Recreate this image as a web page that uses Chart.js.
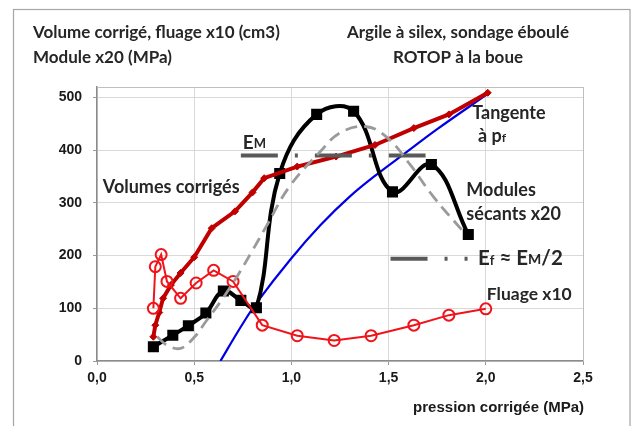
<!DOCTYPE html>
<html><head><meta charset="utf-8">
<script src="https://cdn.jsdelivr.net/npm/chart.js@4"></script>
<style>html,body{margin:0;padding:0;background:#fff}#c{display:block}</style>
</head><body>
<canvas id="c" width="633" height="426"></canvas>
<script>
// Volumes corrigés
const volX = [0.29,0.30,0.32,0.34,0.38,0.43,0.50,0.59,0.71,0.80,0.86,1.03,1.23,1.43,1.63,1.81,2.01];
const volY = [46,68,92,119,144,167,197,252,284,320,347,369,388,410,442,468,509];
// Fluage x10
const fluX = [0.29,0.30,0.33,0.36,0.43,0.51,0.60,0.70,0.85,1.03,1.22,1.41,1.63,1.81,2.00];
const fluY = [100,179,202,151,119,148,172,151,68,48,39,48,68,87,99];
// Modules sécants x20
const modX = [0.29,0.39,0.47,0.56,0.65,0.74,0.82,0.94,1.13,1.32,1.52,1.72,1.91];
const modY = [27,49,67,91,133,115,101,356,468,474,321,373,240];
// Courbe lissée (tiretés gris)
const smX = [0.31,0.36,0.43,0.50,0.56,0.64,0.72,0.80,0.87,0.99,1.15,1.25,1.38,1.49,1.61,1.73,1.89];
const smY = [46,30,24,45,75,115,160,210,255,331,398,433,445,425,373,312,243];
// Tangente à pf
const tanX = [0.635,0.74,0.82,1.0,1.15,1.30,1.46,1.58,1.75,2.01];
const tanY = [0,65,110,195,258,312,360,393,440,507];
// EM and Ef lines
const emX = [0.74,1.69];
const emY = [390,390];
const efX = [1.51,1.91];
const efY = [194,194];
// Axis ticks
const xTicks = [0,0.5,1.0,1.5,2.0,2.5];
const yTicks = [0,100,200,300,400,500];

const pts = (xs, ys) => xs.map((x, i) => ({x, y: ys[i]}));

const TXT = '#262626';
const LF = 'Lato, "Noto Sans", sans-serif';
const AF = '"Liberation Sans", Arial, sans-serif';

function runs(ctx, x, y, parts) {
  let cx = x;
  for (const p of parts) {
    ctx.font = 'bold ' + p[1] + 'px ' + LF;
    ctx.fillText(p[0], cx, y + (p[2] || 0));
    cx += ctx.measureText(p[0]).width;
  }
}

const deco = {
  id: 'deco',
  beforeDraw(chart) {
    const ctx = chart.ctx;
    ctx.save();
    ctx.fillStyle = '#fff';
    ctx.fillRect(0, 0, chart.width, chart.height);
    ctx.strokeStyle = '#a6a6a6';
    ctx.lineWidth = 1.2;
    ctx.strokeRect(13.5, 9.5, 616.5, 430);
    ctx.restore();
  },
  beforeDatasetsDraw(chart) {
    const ctx = chart.ctx, a = chart.chartArea;
    ctx.save();
    ctx.strokeStyle = '#bfbfbf';
    ctx.lineWidth = 1;
    ctx.beginPath();
    ctx.moveTo(a.left, a.top + 0.5); ctx.lineTo(a.right + 0.5, a.top + 0.5); ctx.lineTo(a.right + 0.5, a.bottom);
    ctx.stroke();
    ctx.restore();
  },
  afterDraw(chart) {
    const ctx = chart.ctx;
    const xs = chart.scales.x, ys = chart.scales.y;
    const px = v => xs.getPixelForValue(v), py = v => ys.getPixelForValue(v);
    ctx.save();
    ctx.fillStyle = TXT;
    ctx.textBaseline = 'middle';
    ctx.textAlign = 'left';
    ctx.font = 'bold 17px ' + LF;
    ctx.fillText('Volume corrigé, fluage x10 (cm3)', 33, 33);
    ctx.fillText('Module x20 (MPa)', 33, 58);
    ctx.textAlign = 'center';
    ctx.fillText('Argile à silex, sondage éboulé', 458, 33);
    ctx.fillText('ROTOP à la boue', 458, 58);
    ctx.textAlign = 'right';
    ctx.font = 'bold 15px ' + AF;
    ctx.fillStyle = '#1a1a1a';
    ctx.fillText('pression corrigée (MPa)', 584, 408);
    ctx.textAlign = 'left';
    ctx.fillStyle = TXT;
    ctx.font = 'bold 18px ' + LF;
    ctx.fillText('Volumes corrigés', px(0.03), py(329));
    runs(ctx, px(0.75), py(414), [['E', 19], ['M', 13, 1]]);
    ctx.font = 'bold 18px ' + LF;
    ctx.fillText('Tangente', px(1.93), py(471));
    runs(ctx, px(1.96), py(426), [['à p', 18], ['f', 12, 2]]);
    ctx.font = 'bold 18px ' + LF;
    ctx.fillText('Modules', px(1.90), py(325));
    ctx.fillText('sécants x20', px(1.90), py(278));
    runs(ctx, px(1.96), py(194), [['E', 20.5], ['f', 13, 2], [' ≈ E', 20.5], ['M', 14, 1], ['/2', 20.5]]);
    ctx.font = 'bold 17.5px ' + LF;
    ctx.fillText('Fluage x10', px(2.005), py(127));
    ctx.restore();
  }
};

new Chart(document.getElementById('c'), {
  type: 'scatter',
  data: {
    datasets: [
      { data: pts(smX, smY), showLine: true, tension: 0.4, borderColor: '#9a9a9a', borderWidth: 2.8, borderDash: [12, 7], pointRadius: 0 },
      { data: pts(emX, emY), showLine: true, borderColor: '#595959', borderWidth: 4, borderDash: [37, 17, 3, 17], borderCapStyle: 'butt', pointRadius: 0 },
      { data: pts(efX, efY), showLine: true, borderColor: '#595959', borderWidth: 4, borderDash: [37, 17, 3, 17, 3, 200], borderCapStyle: 'butt', pointRadius: 0 },
      { data: pts(fluX, fluY), showLine: true, borderColor: '#f0141a', borderWidth: 2, pointStyle: 'circle', pointRadius: 5.5, pointBorderWidth: 2, pointBackgroundColor: 'rgba(255,255,255,0)', pointBorderColor: '#f0141a' },
      { data: pts(volX, volY), showLine: true, borderColor: '#c00000', borderWidth: 4, pointStyle: 'rectRot', pointRadius: 3.5, pointBorderWidth: 1, pointBackgroundColor: '#c00000', pointBorderColor: '#c00000' },
      { data: pts(modX, modY), showLine: true, tension: 0.4, borderColor: '#000', borderWidth: 4, pointStyle: 'rect', pointRadius: 5, pointBackgroundColor: '#000', pointBorderColor: '#000' },
      { data: pts(tanX, tanY), showLine: true, tension: 0.4, borderColor: '#0000e6', borderWidth: 2.2, pointRadius: 0 }
    ]
  },
  options: {
    responsive: false,
    animation: false,
    events: [],
    layout: { padding: { left: 20, right: 50, top: 87, bottom: 0 } },
    plugins: { legend: { display: false }, tooltip: { enabled: false } },
    scales: {
      x: {
        type: 'linear', min: 0, max: 2.5,
        afterBuildTicks: s => { s.ticks = xTicks.map(v => ({value: v})); },
        afterFit: s => { s.height = 65; },
        grid: { color: '#d9d9d9', lineWidth: 1, tickLength: 4, tickColor: '#999' },
        border: { color: '#8c8c8c', width: 1.5 },
        ticks: { color: '#1a1a1a', padding: 5, font: { family: AF, size: 14, weight: 'bold' },
          callback: v => v.toFixed(1).replace('.', ',') }
      },
      y: {
        type: 'linear', min: 0, max: 520,
        afterBuildTicks: s => { s.ticks = yTicks.map(v => ({value: v})); },
        afterFit: s => { s.width = 77; },
        grid: { color: '#d9d9d9', lineWidth: 1, tickLength: 4, tickColor: '#999' },
        border: { color: '#8c8c8c', width: 1.5 },
        ticks: { color: '#1a1a1a', padding: 11, font: { family: AF, size: 14, weight: 'bold' } }
      }
    }
  },
  plugins: [deco]
});
</script>
</body></html>
